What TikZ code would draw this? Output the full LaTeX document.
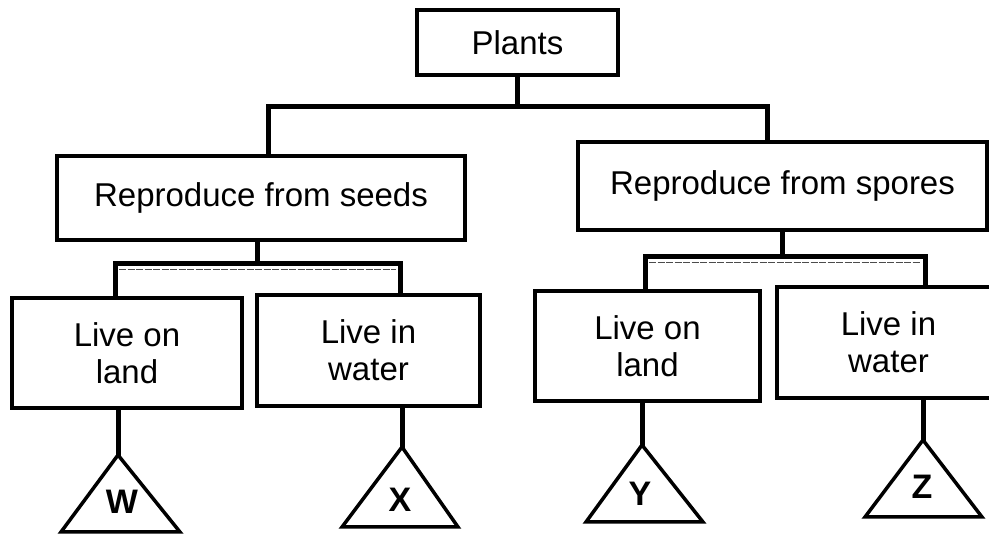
\documentclass[tikz,border=0pt]{standalone}
\usepackage{fontspec}
\setmainfont{Liberation Sans}
\usetikzlibrary{calc}
\tikzset{
  box/.style={draw=black, line width=3.5pt, fill=white, align=center, inner sep=0pt,
    font=\fontsize{33}{37}\selectfont},
  conn/.style={draw=black, line width=5pt, line cap=rect, line join=miter},
  inner/.style={draw=black!70, line width=1.3pt, dashed, dash pattern=on 7pt off 1.5pt},
  tri/.style={draw=black, line width=3.5pt, line join=miter},
  letter/.style={font=\fontsize{34}{34}\selectfont\bfseries, inner sep=0pt}
}
\begin{document}
\begin{tikzpicture}[x=1pt, y=-1pt]
\path[use as bounding box, clip] (0,0) rectangle (989,534);
\fill[white] (0,0) rectangle (989,534);

% boxes
\node[box, minimum width=201, minimum height=65] (plants) at (517.5,42.5) {Plants};
\node[box, minimum width=408, minimum height=84] (seeds) at (261,198) {Reproduce from seeds};
\node[box, minimum width=409, minimum height=88] (spores) at (782.5,186) {Reproduce from spores};
\node[box, minimum width=230, minimum height=110] (landL) at (127,353) {Live on\\land};
\node[box, minimum width=223, minimum height=111] (waterL) at (368.5,350.5) {Live in\\water};
\node[box, minimum width=225, minimum height=110] (landR) at (647.5,346) {Live on\\land};
\node[box, minimum width=223, minimum height=111] (waterR) at (888.5,342.5) {Live in\\water};

% top level connectors
\coordinate (hL) at (268,107);
\coordinate (hR) at (767,107);
\draw[conn] (plants.south) -- (plants.south |- hL);
\draw[conn] (seeds.north -| hL) -- (hL) -- (hR) -- (spores.north -| hR);

% left branch
\coordinate (sL) at (257,264);
\coordinate (bL1) at (115,264);
\coordinate (bL2) at (400,264);
\draw[conn] (seeds.south -| sL) -- (sL);
\draw[inner] ($(bL1)+(4,5.5)$) -- ($(bL2)+(-4,5.5)$);
\draw[conn] (landL.north -| bL1) -- (bL1) -- (bL2) -- (waterL.north -| bL2);

% right branch
\coordinate (sR) at (782,257);
\coordinate (bR1) at (645,257);
\coordinate (bR2) at (925,257);
\draw[conn] (spores.south -| sR) -- (sR);
\draw[inner] ($(bR1)+(4,5.5)$) -- ($(bR2)+(-4,5.5)$);
\draw[conn] (landR.north -| bR1) -- (bR1) -- (bR2) -- (waterR.north -| bR2);

% triangles
\coordinate (tW) at (118,455);
\coordinate (tX) at (402,447);
\coordinate (tY) at (642,445);
\coordinate (tZ) at (923,440);
\draw[conn] (landL.south -| tW) -- (tW);
\draw[conn] (waterL.south -| tX) -- (tX);
\draw[conn] (landR.south -| tY) -- (tY);
\draw[conn] (waterR.south -| tZ) -- (tZ);
\draw[tri] (tW) -- ++(-57,77) -- ++(119,0) -- cycle;
\draw[tri] (tX) -- ++(-60,80) -- ++(116,0) -- cycle;
\draw[tri] (tY) -- ++(-56,77) -- ++(117,0) -- cycle;
\draw[tri] (tZ) -- ++(-58,77) -- ++(117,0) -- cycle;
\node[letter] (lW) at (122,502) {W};
\node[letter] (lX) at (400,500) {X};
\node[letter] (lY) at (640,494) {Y};
\node[letter] (lZ) at (922,487) {Z};
\end{tikzpicture}
\end{document}
